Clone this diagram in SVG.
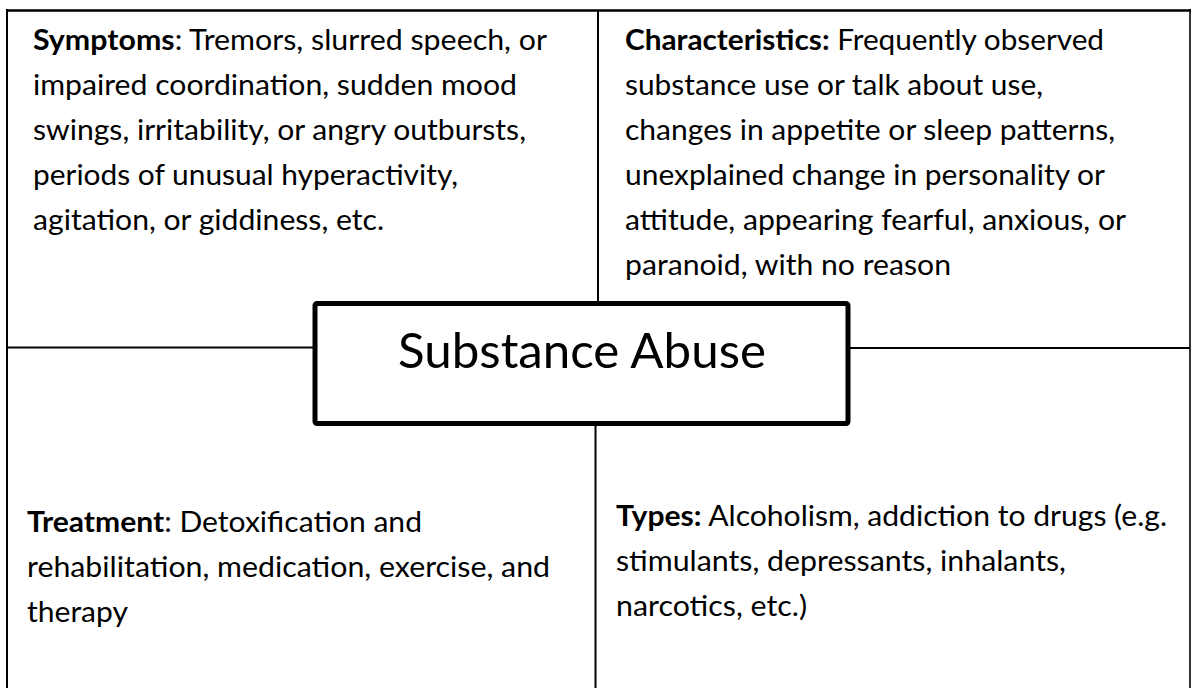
<svg xmlns="http://www.w3.org/2000/svg" width="1192" height="688" viewBox="0 0 1192 688">
<style>
.ln{stroke:#000;stroke-width:2;fill:none}
.t{font-family:Lato,"Liberation Sans",sans-serif;font-size:29px;fill:#000}
.b{font-weight:bold}
.c{font-family:Lato,"Liberation Sans",sans-serif;font-size:48px;fill:#000}
</style>
<rect width="1192" height="688" fill="#fff"/>
<g id="connectors">
<line class="ln" x1="6" y1="10.5" x2="1191" y2="10.5" style="stroke-width:2.4"/>
<line class="ln" x1="7" y1="9" x2="7" y2="688"/>
<line class="ln" x1="1190" y1="9" x2="1190" y2="688" style="stroke-width:1.6"/>
<line class="ln" x1="598" y1="10" x2="598" y2="303"/>
<line class="ln" x1="7" y1="347.5" x2="314" y2="347.5"/>
<line class="ln" x1="849" y1="348" x2="1190" y2="348"/>
<line class="ln" x1="595.5" y1="424" x2="595.5" y2="688"/>
</g>
<g id="symptoms">
<text class="t" x="33" y="50" textLength="514" lengthAdjust="spacingAndGlyphs"><tspan class="b">Symptoms</tspan>: Tremors, slurred speech, or</text>
<text class="t" x="33" y="95" textLength="484" lengthAdjust="spacingAndGlyphs">impaired coordination, sudden mood</text>
<text class="t" x="33" y="140" textLength="493" lengthAdjust="spacingAndGlyphs">swings, irritability, or angry outbursts,</text>
<text class="t" x="33" y="185" textLength="425" lengthAdjust="spacingAndGlyphs">periods of unusual hyperactivity,</text>
<text class="t" x="33" y="230" textLength="351" lengthAdjust="spacingAndGlyphs">agitation, or giddiness, etc.</text>
</g>
<g id="characteristics">
<text class="t" x="625" y="50" textLength="479" lengthAdjust="spacingAndGlyphs"><tspan class="b">Characteristics:</tspan> Frequently observed</text>
<text class="t" x="625" y="95" textLength="418" lengthAdjust="spacingAndGlyphs">substance use or talk about use,</text>
<text class="t" x="625" y="140" textLength="490" lengthAdjust="spacingAndGlyphs">changes in appetite or sleep patterns,</text>
<text class="t" x="625" y="185" textLength="480" lengthAdjust="spacingAndGlyphs">unexplained change in personality or</text>
<text class="t" x="625" y="230" textLength="501" lengthAdjust="spacingAndGlyphs">attitude, appearing fearful, anxious, or</text>
<text class="t" x="625" y="275" textLength="326" lengthAdjust="spacingAndGlyphs">paranoid, with no reason</text>
</g>
<g id="center">
<rect x="315" y="303.5" width="533" height="120" rx="2" fill="#fff" stroke="#000" stroke-width="5"/>
<text class="c" x="398" y="368" textLength="368" lengthAdjust="spacingAndGlyphs">Substance Abuse</text>
</g>
<g id="treatment">
<text class="t" x="27" y="532" textLength="395" lengthAdjust="spacingAndGlyphs"><tspan class="b">Treatment</tspan>: Detoxification and</text>
<text class="t" x="27" y="577" textLength="523" lengthAdjust="spacingAndGlyphs">rehabilitation, medication, exercise, and</text>
<text class="t" x="27" y="622" textLength="101" lengthAdjust="spacingAndGlyphs">therapy</text>
</g>
<g id="types">
<text class="t" x="616" y="526" textLength="551" lengthAdjust="spacingAndGlyphs"><tspan class="b">Types:</tspan> Alcoholism, addiction to drugs (e.g.</text>
<text class="t" x="616" y="571" textLength="450" lengthAdjust="spacingAndGlyphs">stimulants, depressants, inhalants,</text>
<text class="t" x="616" y="616" textLength="191" lengthAdjust="spacingAndGlyphs">narcotics, etc.)</text>
</g>
</svg>
